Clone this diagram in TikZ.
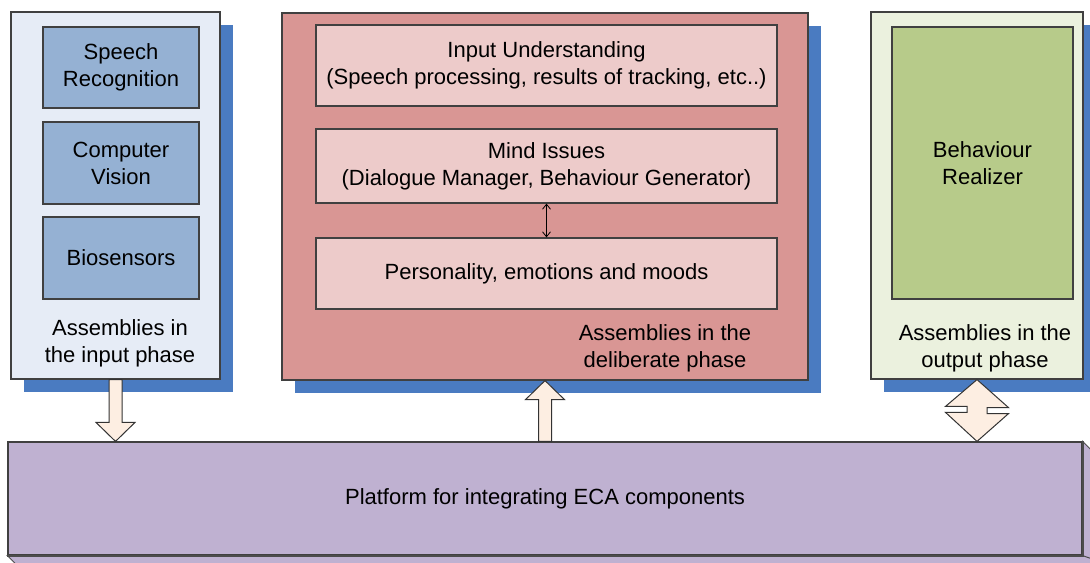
\documentclass[tikz,border=0pt]{standalone}
\usepackage{fontspec}
\setmainfont{Liberation Sans}
\usetikzlibrary{arrows.meta,calc,shadows}

\definecolor{shadowblue}{HTML}{4A7BC1}
\definecolor{inouter}{HTML}{E6ECF6}
\definecolor{ininner}{HTML}{95B1D3}
\definecolor{deloutter}{HTML}{D99694}
\definecolor{delinner}{HTML}{EDCBCA}
\definecolor{outouter}{HTML}{EBF1DE}
\definecolor{outinner}{HTML}{B7CB8A}
\definecolor{platfill}{HTML}{BFB1D1}
\definecolor{arrowfill}{HTML}{FDEEE2}

\begin{document}
\begin{tikzpicture}[x=0.5pt,y=-0.5pt,
    every node/.style={font=\fontsize{11}{13.5}\selectfont, align=center},
    box/.style={draw=black!75, line width=0.6pt, inner sep=0pt},
    phase/.style={box, drop shadow={shadow xshift=6.5pt, shadow yshift=-6.5pt, fill=shadowblue, opacity=1}},
    blockarrow/.style={draw=black!80, fill=arrowfill, line width=0.5pt, line join=miter}]

    \useasboundingbox (0,0) rectangle (1090,562);

    % Input phase
    \node[phase, fill=inouter, minimum width=104.5pt, minimum height=183.5pt] (inbox) at (115.5,195.5) {};
    \node[box, fill=ininner, minimum width=78pt, minimum height=40.5pt] (speech) at (121,67.5) {Speech\\Recognition};
    \node[box, fill=ininner, minimum width=78pt, minimum height=41pt] (vision) at (121,163) {Computer\\Vision};
    \node[box, fill=ininner, minimum width=78pt, minimum height=41pt] (bio) at (121,258) {Biosensors};
    \node (inlabel) at (120,343) {Assemblies in\\the input phase};

    % Deliberate phase
    \node[phase, fill=deloutter, minimum width=263pt, minimum height=183.5pt] (delbox) at (545,196.5) {};
    \node[box, fill=delinner, minimum width=230.5pt, minimum height=40.5pt] (understand) at (546.5,65.5) {Input Understanding\\(Speech processing, results of tracking, etc..)};
    \node[box, fill=delinner, minimum width=230.5pt, minimum height=37pt] (mind) at (546.5,166) {Mind Issues\\(Dialogue Manager, Behaviour Generator)};
    \node[box, fill=delinner, minimum width=230.5pt, minimum height=35.5pt] (personality) at (546.5,273.5) {Personality, emotions and moods};
    \node (dellabel) at (665,348) {Assemblies in the\\deliberate phase};
    \draw[{Straight Barb[length=2.5pt,width=4pt]}-{Straight Barb[length=2.5pt,width=4pt]}, line width=0.4pt] (mind) -- (personality);

    % Output phase
    \node[phase, fill=outouter, minimum width=106pt, minimum height=183.5pt] (outbox) at (977,195.5) {};
    \node[box, fill=outinner, minimum width=90.5pt, minimum height=136pt] (realizer) at (982.5,163) {Behaviour\\Realizer};
    \node (outlabel) at (985,348) {Assemblies in the\\output phase};

    % Platform
    \node[box, fill=platfill, minimum width=537pt, minimum height=56.5pt] (plat) at (545,498.5) {Platform for integrating ECA components};
    \draw[fill=platfill, draw=black!70, line width=0.5pt] (plat.north east) -- ++(8,8) -- ++(0,120) -- ++(-8,-8) -- cycle;
    \draw[fill=platfill, draw=black!70, line width=0.5pt] (plat.south west) -- ++(8,8) -- ++(1090,0) -- (plat.south east) -- cycle;
    \draw[draw=black!70, line width=1.1pt] (plat.south west) -- (plat.south east) -- (plat.north east);

    % Block arrows
    \coordinate (dtip) at (inbox.south |- plat.north);
    \draw[blockarrow] ($(inbox.south)+(-6.5,0)$) -- ($(dtip)+(-6.5,-19)$) -- ($(dtip)+(-19.5,-19)$) -- (dtip)
        -- ($(dtip)+(19.5,-19)$) -- ($(dtip)+(6.5,-19)$) -- ($(inbox.south)+(6.5,0)$) -- cycle;

    \coordinate (ubase) at (delbox.south |- plat.north);
    \draw[blockarrow] (delbox.south) -- ++(19.5,19) -- ++(-13,0) -- ($(ubase)+(6.5,0)$)
        -- ($(ubase)+(-6.5,0)$) -- ($(delbox.south)+(-6.5,19)$) -- ++(-13,0) -- cycle;

    \coordinate (otip) at (outbox.south |- plat.north);
    \draw[blockarrow] (outbox.south) -- ++(31.5,28) -- ++(-21.5,0) -- ++(0,6) -- ++(21.5,0) -- (otip)
        -- ++(-31.5,-29) -- ++(21.5,0) -- ++(0,-6) -- ++(-21.5,0) -- cycle;
\end{tikzpicture}
\end{document}
